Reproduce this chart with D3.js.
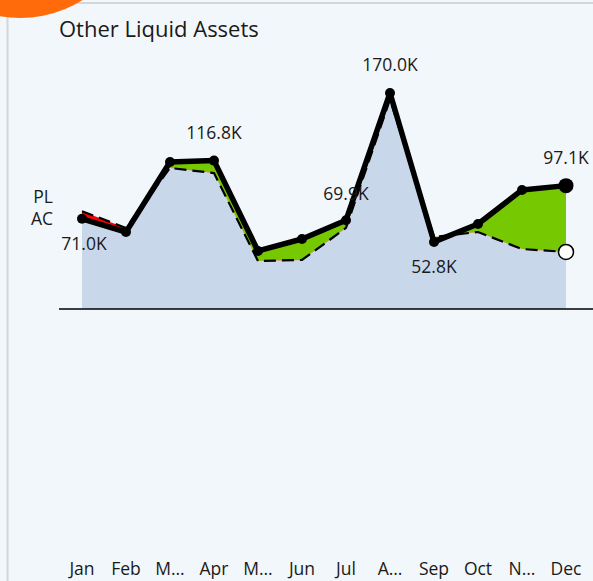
<!DOCTYPE html>
<html lang="en">
<head>
<meta charset="UTF-8">
<title>Other Liquid Assets</title>
<style>
    * { margin: 0; padding: 0; }
    html, body { overflow: hidden; background: #F2F7FB; }
    text { font-family: "Segoe UI", "Open Sans", sans-serif; fill: #1a1a1a; }
</style>
</head>
<body>
<div id="chart"></div>
<script src="https://cdn.jsdelivr.net/npm/d3@7"></script>
<script>
    const months = ['Jan', 'Feb', 'Mar', 'Apr', 'May', 'Jun', 'Jul', 'Aug', 'Sep', 'Oct', 'Nov', 'Dec']
    const monthLabels = ['Jan', 'Feb', 'M…', 'Apr', 'M…', 'Jun', 'Jul', 'A…', 'Sep', 'Oct', 'N…', 'Dec']
    const actual = [71.0, 60.6, 115.7, 116.8, 45.7, 55.1, 69.9, 170.0, 52.8, 66.9, 93.7, 97.1]
    const plan = [77.0, 63.8, 111.0, 107.0, 37.8, 38.6, 63.8, 165.0, 56.7, 60.6, 47.2, 44.9]
    // which months get a value label
    const labelMonths = ['Jan', 'Apr', 'Jul', 'Aug', 'Sep', 'Dec']

    function drawChart() {
        const width = 593
        const height = 581
        const svg = d3.select('#chart')
            .append('svg')
            .attr('width', width)
            .attr('height', height)
            .style('background', '#F2F7FB')

        const x = d3.scalePoint().domain(months).range([82, 566])
        const y = d3.scaleLinear().domain([0, 170]).range([309, 93])

        const data = months.map((m, i) => ({ m, ac: actual[i], pl: plan[i] }))

        // frame
        svg.append('line').attr('x1', 7.5).attr('x2', 7.5).attr('y1', 3).attr('y2', height)
            .attr('stroke', '#d4d6d8').attr('stroke-width', 2)
        svg.append('line').attr('x1', 7).attr('x2', width).attr('y1', 3).attr('y2', 3)
            .attr('stroke', '#d4d6d8').attr('stroke-width', 2)
        svg.append('circle').attr('cx', 20).attr('cy', -100).attr('r', 118).attr('fill', '#FF6B0A')

        svg.append('text').attr('x', 59).attr('y', 37).style('font-size', '22px').text('Other Liquid Assets')

        const defs = svg.append('defs')
        defs.append('clipPath').attr('id', 'abovePL')
            .append('path')
            .attr('d', d3.area().x(d => x(d.m)).y0(0).y1(d => y(d.pl))(data))
        defs.append('clipPath').attr('id', 'belowPL')
            .append('path')
            .attr('d', d3.area().x(d => x(d.m)).y0(height).y1(d => y(d.pl))(data))

        // plan area
        svg.append('path')
            .attr('d', d3.area().x(d => x(d.m)).y0(y(0)).y1(d => y(d.pl))(data))
            .attr('fill', '#C8D7EA')

        const between = d3.area().x(d => x(d.m)).y0(d => y(d.pl)).y1(d => y(d.ac))
        svg.append('path').attr('d', between(data)).attr('fill', '#76C800').attr('clip-path', 'url(#abovePL)')
        svg.append('path').attr('d', between(data)).attr('fill', '#FF0000').attr('clip-path', 'url(#belowPL)')

        // baseline
        svg.append('line').attr('x1', 59).attr('x2', width).attr('y1', y(0)).attr('y2', y(0))
            .attr('stroke', '#000').attr('stroke-width', 1.5)

        // plan line
        svg.append('path')
            .attr('d', d3.line().x(d => x(d.m)).y(d => y(d.pl))(data))
            .attr('fill', 'none').attr('stroke', '#000').attr('stroke-width', 2.2)
            .attr('stroke-dasharray', '12,6')

        // actual line
        svg.append('path')
            .attr('d', d3.line().x(d => x(d.m)).y(d => y(d.ac))(data))
            .attr('fill', 'none').attr('stroke', '#000').attr('stroke-width', 5.5)
            .attr('stroke-linejoin', 'round')

        svg.selectAll('.dot')
            .data(data)
            .join('circle')
            .attr('class', 'dot')
            .attr('cx', d => x(d.m))
            .attr('cy', d => y(d.ac))
            .attr('r', (d, i) => i === data.length - 1 ? 7.5 : 5)
            .attr('fill', '#000')

        const last = data[data.length - 1]
        svg.append('circle').attr('cx', x(last.m)).attr('cy', y(last.pl)).attr('r', 7.5)
            .attr('fill', '#fff').attr('stroke', '#000').attr('stroke-width', 1.5)

        // value labels
        const below = ['Jan', 'Sep']
        svg.selectAll('.val')
            .data(data.filter(d => labelMonths.includes(d.m)))
            .join('text')
            .attr('class', 'val')
            .attr('x', d => x(d.m) + (d.m === 'Jan' ? 2 : 0))
            .attr('y', d => below.includes(d.m) ? y(d.ac) + 31 : y(d.ac) - (d.m === 'Jul' ? 20 : 22))
            .attr('text-anchor', 'middle')
            .style('font-size', '17.5px')
            .text(d => d.ac.toFixed(1) + 'K')

        // PL / AC legend
        svg.append('text').attr('x', 53).attr('y', y(plan[0]) - 8).attr('text-anchor', 'end')
            .style('font-size', '17.5px').text('PL')
        svg.append('text').attr('x', 53).attr('y', y(actual[0]) + 6).attr('text-anchor', 'end')
            .style('font-size', '17.5px').text('AC')

        // month axis
        svg.selectAll('.month')
            .data(months)
            .join('text')
            .attr('class', 'month')
            .attr('x', d => x(d))
            .attr('y', 575)
            .attr('text-anchor', 'middle')
            .style('font-size', '17.5px')
            .text((d, i) => monthLabels[i])
    }

    drawChart()
</script>
</body>
</html>
